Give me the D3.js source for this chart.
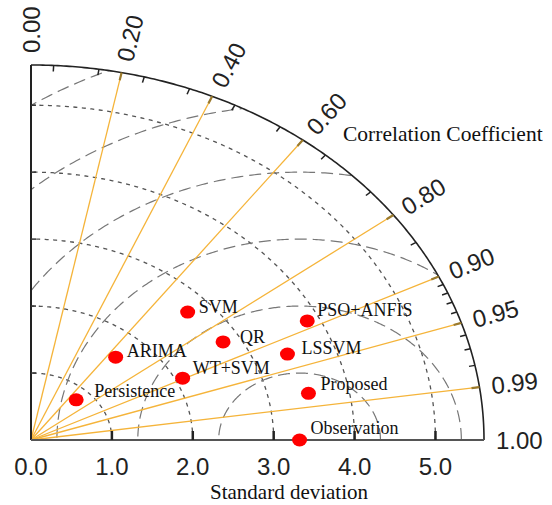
<!DOCTYPE html>
<html><head><meta charset="utf-8">
<script src="https://cdn.jsdelivr.net/npm/d3@7"></script>
<style>body{margin:0;background:#fff}</style>
</head><body>
<svg id="c" width="552" height="505"></svg>
<script>
// ---- data ----
const models = ["SVM","QR","ARIMA","WT+SVM","Persistence","PSO+ANFIS","LSSVM","Proposed","Observation"];
const stdDev = [2.72, 2.79, 1.62, 2.09, 0.82, 3.85, 3.42, 3.50, 3.32];
const corr   = [0.712, 0.851, 0.646, 0.897, 0.681, 0.887, 0.927, 0.980, 1.0];
const corrTicks = [0.0, 0.2, 0.4, 0.6, 0.8, 0.9, 0.95, 0.99, 1.0];
const corrTickLabels = ["0.00","0.20","0.40","0.60","0.80","0.90","0.95","0.99","1.00"];
const corrMinorTicks = [0.05,0.15,0.25,0.35,0.45,0.55,0.65,0.75,0.85,0.91,0.92,0.93,0.94,0.96,0.97,0.98];
const sdTicks = [0, 1, 2, 3, 4, 5];
const sdTickLabels = ["0.0","1.0","2.0","3.0","4.0","5.0"];
const sdMax = 5.6;
const rmsRadii = [1, 2, 3, 4, 5, 6];
const refSD = 3.32;

// ---- layout (not data) ----
const labelOffsets = [[11,1],[17,1],[11,0],[10,-4],[18,-3],[10,-5],[14,0],[12,-3],[11,-6]];

const svg = d3.select("#c");
const x = d3.scaleLinear().domain([0, sdMax]).range([31, 484]);
const y = d3.scaleLinear().domain([0, sdMax]).range([440, 65]);
const P = (sd, c) => [x(sd * c), y(sd * Math.sqrt(Math.max(0, 1 - c * c)))];
const line = d3.line();

function arcPts(r, n = 240) {
  return d3.range(n + 1).map(i => {
    const t = (Math.PI / 2) * i / n;
    return [x(r * Math.cos(t)), y(r * Math.sin(t))];
  });
}

// clip region: the quadrant
const quad = [[x(0), y(0)], ...arcPts(sdMax)];
svg.append("clipPath").attr("id", "q").append("path").attr("d", line(quad) + "Z");

const g = svg.append("g");

// SD arcs (dotted)
sdTicks.filter(d => d > 0).forEach(r => {
  g.append("path").attr("d", line(arcPts(r))).attr("fill", "none")
    .attr("stroke", "#555").attr("stroke-width", 1.3).attr("stroke-dasharray", "4,4.5");
});

// RMS arcs (long dashed) centred on observation
rmsRadii.forEach(r => {
  const pts = d3.range(361).map(i => {
    const t = Math.PI * i / 360;
    return [x(refSD + r * Math.cos(t)), y(r * Math.sin(t))];
  });
  g.append("path").attr("d", line(pts)).attr("fill", "none").attr("clip-path", "url(#q)")
    .attr("stroke", "#777").attr("stroke-width", 1.2).attr("stroke-dasharray", "12,6");
});

// correlation rays
corrTicks.filter(c => c > 0 && c < 1).forEach(c => {
  g.append("path").attr("d", line([P(0, c), P(sdMax, c)]))
    .attr("stroke", "#f5b43a").attr("stroke-width", 1.3).attr("fill", "none");
});

// outer arc
g.append("path").attr("d", line(arcPts(sdMax))).attr("fill", "none")
  .attr("stroke", "#222").attr("stroke-width", 1.6);

// axes
g.append("line").attr("x1", x(0)).attr("x2", x(0)).attr("y1", y(0)).attr("y2", y(sdMax))
  .attr("stroke", "#222").attr("stroke-width", 2);
g.append("line").attr("x1", x(0)).attr("x2", x(sdMax)).attr("y1", y(0)).attr("y2", y(0))
  .attr("stroke", "#555").attr("stroke-width", 2);

// bottom ticks
sdTicks.filter(d => d > 0).forEach(d => {
  g.append("line").attr("x1", x(d)).attr("x2", x(d)).attr("y1", y(0)).attr("y2", y(0) - 9)
    .attr("stroke", "#222").attr("stroke-width", 2.5);
  g.append("line").attr("x1", x(0)).attr("x2", x(0) + 5).attr("y1", y(d)).attr("y2", y(d))
    .attr("stroke", "#333").attr("stroke-width", 1.5);
});
g.selectAll(".sdl").data(sdTicks).join("text")
  .attr("x", d => x(d)).attr("y", 475).attr("text-anchor", "middle")
  .attr("font-family", "Liberation Sans, Arial, sans-serif").attr("font-size", 24)
  .attr("fill", "#222").text((d, i) => sdTickLabels[i]);

// correlation ticks on arc
function tickDir(c) {
  const [px, py] = P(sdMax, c);
  const dx = px - x(0), dy = py - y(0);
  const L = Math.hypot(dx, dy);
  return [px, py, dx / L, dy / L];
}
corrMinorTicks.forEach(c => {
  const [px, py, ux, uy] = tickDir(c);
  g.append("line").attr("x1", px).attr("y1", py).attr("x2", px - ux * 6).attr("y2", py - uy * 6)
    .attr("stroke", "#222").attr("stroke-width", 1.5);
});
corrTicks.filter(c => c > 0 && c < 1).forEach(c => {
  const [px, py, ux, uy] = tickDir(c);
  g.append("line").attr("x1", px).attr("y1", py).attr("x2", px - ux * 8).attr("y2", py - uy * 8)
    .attr("stroke", "#9a7a2e").attr("stroke-width", 2.2);
});
corrTicks.forEach((c, i) => {
  const [px, py, ux, uy] = tickDir(c);
  const gap = 12;
  const ang = Math.atan2(uy, ux) * 180 / Math.PI;
  const tx = px + ux * gap, ty = py + uy * gap;
  g.append("text").attr("transform", `translate(${tx},${ty}) rotate(${ang})`)
    .attr("dominant-baseline", "central").attr("text-anchor", "start")
    .attr("font-family", "Liberation Sans, Arial, sans-serif").attr("font-size", 24)
    .attr("fill", "#222").text(corrTickLabels[i]);
});

// axis titles
g.append("text").attr("x", 343).attr("y", 141)
  .attr("font-family", "Liberation Serif, Times New Roman, serif").attr("font-size", 21.5)
  .attr("fill", "#111").text("Correlation Coefficient");
g.append("text").attr("x", 210).attr("y", 499)
  .attr("font-family", "Liberation Serif, Times New Roman, serif").attr("font-size", 21)
  .attr("fill", "#111").text("Standard deviation");

// points
const pts = models.map((m, i) => ({ m, p: P(stdDev[i], corr[i]), o: labelOffsets[i] }));
g.selectAll(".pt").data(pts).join("ellipse")
  .attr("cx", d => d.p[0]).attr("cy", d => d.p[1]).attr("rx", 7.5).attr("ry", 6.5)
  .attr("fill", "#ff0000");
g.selectAll(".lb").data(pts).join("text")
  .attr("x", d => d.p[0] + d.o[0]).attr("y", d => d.p[1] + d.o[1])
  .attr("font-family", "Liberation Serif, Times New Roman, serif").attr("font-size", 18)
  .attr("fill", "#111").text(d => d.m);
</script>
</body></html>
